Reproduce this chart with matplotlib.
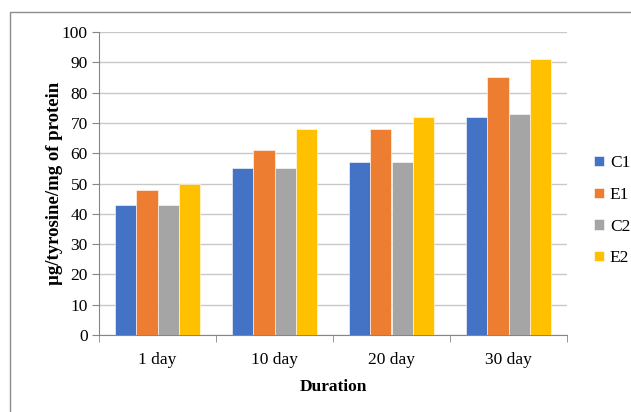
import matplotlib
matplotlib.use("Agg")
import matplotlib.pyplot as plt
from matplotlib.patches import Rectangle
import numpy as np

# tyrosine release per mg protein over storage time
durations = ["1 day", "10 day", "20 day", "30 day"]
series_names = ["C1", "E1", "C2", "E2"]
c1 = [43, 55, 57, 72]
e1 = [48, 61, 68, 85]
c2 = [43, 55, 57, 73]
e2 = [50, 68, 72, 91]
colors = ["#4472C4", "#ED7D31", "#A5A5A5", "#FFC000"]

plt.rcParams["font.family"] = ["Liberation Serif", "DejaVu Serif"]

fig = plt.figure(figsize=(6.31, 4.12), dpi=100)
ax = fig.add_axes([99 / 631, 1 - 335 / 412, 468 / 631, 303 / 412])

x = np.arange(len(durations))
width = 0.18
for i, (name, vals) in enumerate(zip(series_names, [c1, e1, c2, e2])):
    ax.bar(x + (i - 1.5) * width, vals, width, color=colors[i], label=name,
           edgecolor="white", linewidth=0.4, zorder=3)

ax.set_xlim(-0.5, len(durations) - 0.5)
ax.set_ylim(0, 100)
ax.set_yticks(range(0, 101, 10))
ax.set_xticks(x)
ax.set_xticklabels(durations, fontsize=12.5)
ax.set_xticks(np.arange(-0.5, len(durations), 1), minor=True)
ax.tick_params(axis="x", which="major", length=0, pad=12)
ax.tick_params(axis="x", which="minor", length=5, color="#868686", direction="out")
ax.tick_params(axis="y", length=5, color="#868686", labelsize=12.5, pad=3)

ax.grid(axis="y", color="#c8c8c8", linewidth=1, zorder=0)
for side in ["top", "right"]:
    ax.spines[side].set_visible(False)
for side in ["left", "bottom"]:
    ax.spines[side].set_color("#868686")

ax.set_ylabel("µg/tyrosine/mg of protein", fontsize=13.5, fontweight="bold")
ax.yaxis.set_label_coords(-0.076, 0.5)
ax.set_xlabel("Duration", fontsize=12.5, fontweight="bold", labelpad=8)

ax.legend(loc="center left", bbox_to_anchor=(1.058, 0.41), frameon=False,
          borderaxespad=0, borderpad=0,
          fontsize=12.5, handlelength=0.55, handleheight=0.55, handletextpad=0.35,
          labelspacing=0.9)

# thin outer frame around the chart
fig.add_artist(Rectangle((10 / 631, -0.1), 1.2, 1.1 - 12 / 412,
                         transform=fig.transFigure, fill=False,
                         edgecolor="#8c8c8c", linewidth=1))

fig.savefig("out.png", dpi=100)
